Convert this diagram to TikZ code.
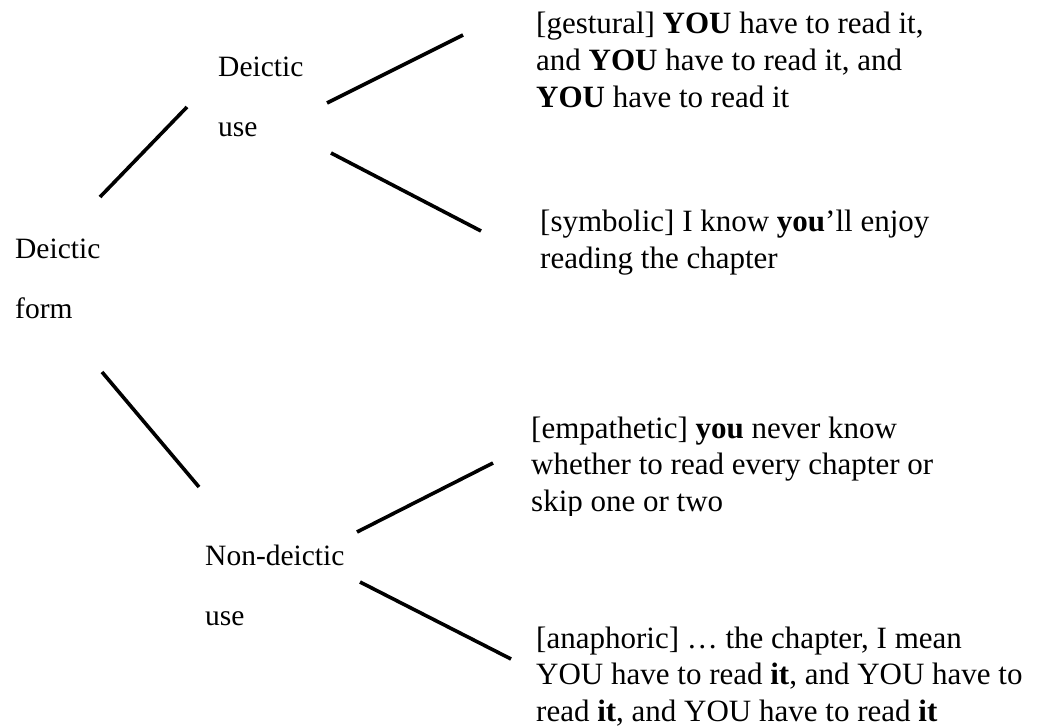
\documentclass[tikz,border=0pt]{standalone}
\usepackage{fontspec}
\setmainfont{Liberation Serif}
\begin{document}
\begin{tikzpicture}[x=1pt,y=-1pt,
  branch/.style={line width=3.6pt},
  lbl/.style={anchor=base west,inner sep=0pt,align=left,font=\fontsize{29.5}{60}\selectfont},
  ex/.style={anchor=base west,inner sep=0pt,align=left,font=\fontsize{31}{36.8}\selectfont}]
\useasboundingbox (0,0) rectangle (1056,727);
% labels (anchored at the baseline of their last line)
\node[lbl] (form) at (15,318) {Deictic\\form};
\node[lbl] (duse) at (218,137) {Deictic\\use};
\node[lbl] (nuse) at (205,625) {Non-deictic\\use};
% examples
\node[ex] (gest) at (536,107.6) {[gestural] \textbf{YOU} have to read it,\\and \textbf{YOU} have to read it, and\\\textbf{YOU} have to read it};
\node[ex] (symb) at (540,268.8) {[symbolic] I know \textbf{you}’ll enjoy\\reading the chapter};
\begin{scope}
\clip (0,0) rectangle (1056,515);
\node[ex] (emp) at (531,511.6) {[empathetic] \textbf{you} never know\\whether to read every chapter or\\skip one or two};
\end{scope}
\node[ex] (ana) at (536,721.6) {[anaphoric] … the chapter, I mean\\YOU have to read \textbf{it}, and YOU have to\\read \textbf{it}, and YOU have to read \textbf{it}};
% connector ends
\coordinate (a1) at (100,197); \coordinate (a2) at (187,107);
\coordinate (b1) at (102,372); \coordinate (b2) at (199,487);
\coordinate (c1) at (327,103); \coordinate (c2) at (463,35);
\coordinate (d1) at (331,153); \coordinate (d2) at (481,231);
\coordinate (e1) at (357,532); \coordinate (e2) at (493,463);
\coordinate (f1) at (360,582); \coordinate (f2) at (511,659);
\draw[branch] (a1) -- (a2);
\draw[branch] (b1) -- (b2);
\draw[branch] (c1) -- (c2);
\draw[branch] (d1) -- (d2);
\draw[branch] (e1) -- (e2);
\draw[branch] (f1) -- (f2);
\end{tikzpicture}
\end{document}
